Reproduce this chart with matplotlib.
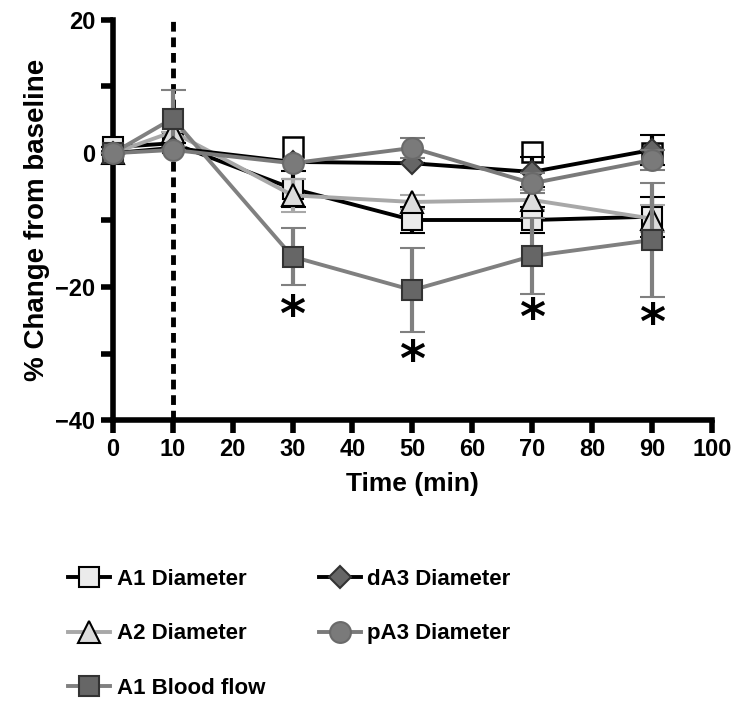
import matplotlib.pyplot as plt
from matplotlib.lines import Line2D

plt.rcParams['font.family'] = ['Liberation Sans', 'DejaVu Sans']
plt.rcParams['font.weight'] = 'bold'

# Time points (min)
time = [0, 10, 30, 50, 70, 90]

# Series values (% change from baseline) and SEM
a1_diam = [0.9, 1.5, -5.3, -10.0, -10.0, -9.5]
a1_diam_err = [0, 0, 2.7, 2.0, 2.0, 3.0]
a2_diam = [0, 3.2, -6.3, -7.3, -7.0, -9.8]
a2_diam_err = [0, 0, 2.5, 1.0, 1.5, 2.0]
a1_flow = [0, 5.2, -15.5, -20.5, -15.4, -13.0]
a1_flow_err = [0, 4.3, 4.3, 6.3, 5.7, 8.5]
da3_diam = [0, 0.8, -1.3, -1.5, -2.8, 0.5]
da3_diam_err = [0, 0, 0, 0, 2.2, 2.2]
pa3_diam = [0, 0.5, -1.5, 0.8, -4.5, -1.0]
pa3_diam_err = [0, 0, 0, 1.5, 1.5, 1.5]

# extra open squares visible behind the curves
ghost_time = [30, 70, 90]
ghost_vals = [0.9, 0.2, 0.0]

# significance marks
star_time = [30, 50, 70, 90]
star_y = [-24.5, -31.3, -25.0, -25.8]

fig = plt.figure(figsize=(7.37, 7.04), dpi=100)
ax = fig.add_axes([0.153, 0.403, 0.813, 0.569])

ax.plot([10, 10], [-40, 20], color='black', lw=3.5, ls=(0, (2.0, 1.2)), zorder=1, clip_on=False)

ax.plot(ghost_time, ghost_vals, ls='none', marker='s', ms=15, mfc='white', mec='black', mew=1.8,
        zorder=2, clip_on=False)

series = [
    ('A1 Diameter', a1_diam, a1_diam_err, 'black', 's', '#ebebeb', 'black', 15),
    ('A2 Diameter', a2_diam, a2_diam_err, '#a8a8a8', '^', '#dcdcdc', 'black', 16),
    ('A1 Blood flow', a1_flow, a1_flow_err, '#808080', 's', '#666666', '#333333', 15),
    ('dA3 Diameter', da3_diam, da3_diam_err, 'black', 'D', '#666666', '#333333', 11),
    ('pA3 Diameter', pa3_diam, pa3_diam_err, '#7a7a7a', 'o', '#7a7a7a', '#6a6a6a', 15),
]

handles = []
for i, (name, vals, err, lc, mk, fc, ec, ms) in enumerate(series):
    ax.errorbar(time, vals, yerr=err, color=lc, ecolor=lc, elinewidth=3, capsize=9, capthick=3,
                lw=2.8, marker=mk, ms=ms, mfc=fc, mec=ec, mew=1.5, zorder=3 + i, clip_on=False)
    handles.append(Line2D([], [], color=lc, lw=2.8, marker=mk, ms=ms, mfc=fc, mec=ec, mew=1.5,
                          label=name))

for t, y in zip(star_time, star_y):
    ax.text(t, y, '*', ha='center', va='center', fontsize=36, fontweight='bold',
            family='DejaVu Sans')

ax.set_xlim(0, 100)
ax.set_ylim(-40, 20)
ax.set_xticks(range(0, 101, 10))
ax.set_yticks([-40, -20, 0, 20])
ax.set_yticklabels(['\u221240', '\u221220', '0', '20'])
ax.set_yticks([-30, -10, 10], minor=True)
for s in ['top', 'right']:
    ax.spines[s].set_visible(False)
for s in ['left', 'bottom']:
    ax.spines[s].set_linewidth(4)
ax.tick_params(which='both', direction='out', width=4, labelsize=17)
ax.tick_params(which='major', length=9)
ax.tick_params(which='minor', length=9)
ax.set_xlabel('Time (min)', fontsize=19, fontweight='bold', labelpad=8)
ax.set_ylabel('% Change from baseline', fontsize=20, fontweight='bold', labelpad=4)

fig.legend(handles=handles, ncol=2, loc='upper left', bbox_to_anchor=(0.065, 0.22),
           frameon=False, fontsize=16, handlelength=1.9, labelspacing=1.5, columnspacing=2.4,
           handletextpad=0.3)

fig.savefig('out.png', dpi=100)
